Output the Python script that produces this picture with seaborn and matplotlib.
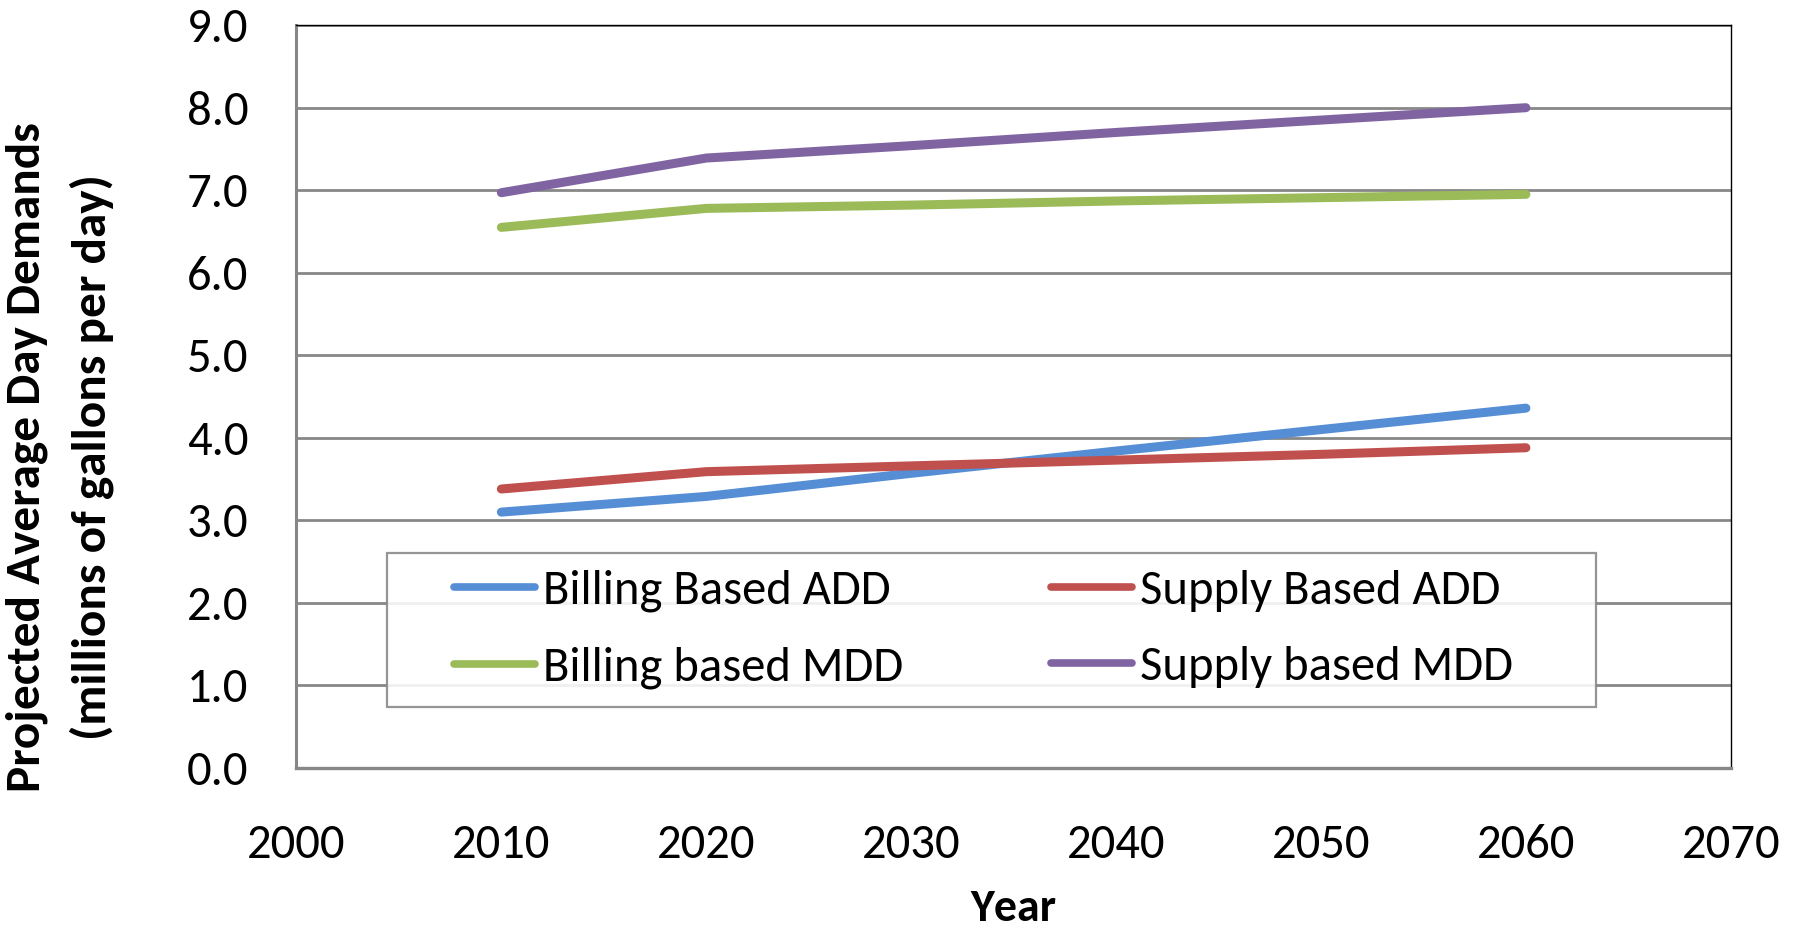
import matplotlib
matplotlib.use("Agg")
import matplotlib.pyplot as plt
from matplotlib.lines import Line2D
from matplotlib.patches import Rectangle
import numpy as np
import pandas as pd
import seaborn as sns

# Projected demands (millions of gallons per day)
years = [2010, 2020, 2030, 2040, 2050, 2060]
billing_add = [3.10, 3.29, 3.57, 3.84, 4.10, 4.36]
supply_add = [3.38, 3.59, 3.66, 3.73, 3.80, 3.88]
billing_mdd = [6.55, 6.78, 6.82, 6.87, 6.91, 6.95]
supply_mdd = [6.97, 7.39, 7.54, 7.70, 7.85, 8.00]

series_names = ["Billing Based ADD", "Supply Based ADD",
                "Billing based MDD", "Supply based MDD"]
series_values = [billing_add, supply_add, billing_mdd, supply_mdd]
series_colors = ["#558ED5", "#C0504D", "#9BBB59", "#8064A2"]

x_ticks = [2000, 2010, 2020, 2030, 2040, 2050, 2060, 2070]
y_ticks = [0, 1, 2, 3, 4, 5, 6, 7, 8, 9]

df = pd.DataFrame({
    "Year": np.tile(years, len(series_names)),
    "Demand": np.concatenate(series_values),
    "Series": np.repeat(series_names, len(years)),
})

sns.set_style("white")
plt.rcParams["font.family"] = ["Carlito", "DejaVu Sans"]
plt.rcParams["text.color"] = "black"
plt.rcParams["xtick.color"] = "black"
plt.rcParams["ytick.color"] = "black"
plt.rcParams["axes.labelcolor"] = "black"

fig = plt.figure(figsize=(18.02, 9.32), dpi=100)
ax = fig.add_axes([0.1645, 0.176, 0.796, 0.797])

grid_gray = "#878787"
for yv in y_ticks[1:]:
    ax.axhline(yv, color=grid_gray, lw=2.0, zorder=0)

# legend box (drawn beneath the series lines)
ax.add_patch(Rectangle((0.0631, 0.0821), 0.843, 0.2074, transform=ax.transAxes,
                       facecolor="white", edgecolor=grid_gray, lw=1.6,
                       alpha=0.88, zorder=1))

sns.lineplot(data=df, x="Year", y="Demand", hue="Series",
             hue_order=series_names, palette=series_colors,
             linewidth=6.5, ax=ax, legend=False, sort=True,
             solid_capstyle="round", zorder=3)

ax.set_xlim(2000, 2070)
ax.set_ylim(0, 9)
ax.set_xticks(x_ticks)
ax.set_yticks(y_ticks)
ax.set_yticklabels([f"{v:.1f}" for v in y_ticks])

ax.tick_params(axis="y", direction="out", length=11.5, width=2.0,
               color=grid_gray, labelsize=35, pad=23)
ax.tick_params(axis="x", direction="out", length=10, width=1.2,
               color=grid_gray, labelsize=35, pad=30)

for side in ["top", "right"]:
    ax.spines[side].set_color("black")
    ax.spines[side].set_linewidth(1.0)
ax.spines["left"].set_color(grid_gray)
ax.spines["left"].set_linewidth(2.2)
ax.spines["bottom"].set_color(grid_gray)
ax.spines["bottom"].set_linewidth(2.4)

bold = ["Carlito", "DejaVu Sans"]
ax.set_xlabel("Year", labelpad=16, family=bold, weight="bold", size=33)
ax.set_ylabel("Projected Average Day Demands\n(millions of gallons per day)",
              linespacing=1.6, family=bold, weight="bold", size=35.5)
ax.yaxis.set_label_coords(-0.127, 0.419)

handles = [Line2D([0], [0], color=c, lw=5.5, solid_capstyle="round")
           for c in series_colors]
order = [0, 2, 1, 3]
leg = ax.legend([handles[i] for i in order], [series_names[i] for i in order],
                ncol=2, loc="center left", bbox_to_anchor=(0.11, 0.1865),
                frameon=False, borderpad=0, borderaxespad=0,
                prop={"family": ["Carlito", "DejaVu Sans"], "size": 35},
                handlelength=1.67, handletextpad=0.16, columnspacing=3.03,
                labelspacing=0.71)
leg.set_zorder(4)

fig.savefig("out.png", dpi=100)
